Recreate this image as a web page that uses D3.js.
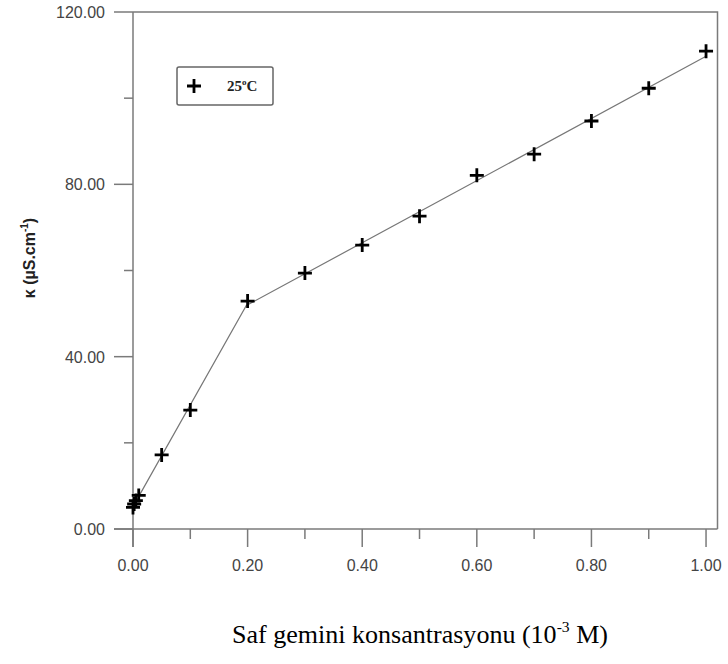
<!DOCTYPE html>
<html>
<head>
<meta charset="utf-8">
<script src="https://cdn.jsdelivr.net/npm/d3@7"></script>
<style>
  body { margin: 0; background: #fff; }
  svg { display: block; }
</style>
</head>
<body>
<div class="canvas"></div>
<script>
// data (x: 10^-3 M, y: µS/cm)
const concs = [0, 0.002, 0.005, 0.01, 0.05, 0.1, 0.2, 0.3, 0.4, 0.5, 0.6, 0.7, 0.8, 0.9, 1.0];
const kappa = [5.0, 5.8, 6.6, 7.8, 17.2, 27.6, 52.9, 59.4, 65.9, 72.6, 82.1, 87.0, 94.7, 102.3, 110.9];
const cmcConc = 0.2; // break point between the two fitted lines
const xTickVals = [0, 0.2, 0.4, 0.6, 0.8, 1.0];
const xMinorVals = [0.1, 0.3, 0.5, 0.7, 0.9];
const yTickVals = [0, 40, 80, 120];
const yMinorVals = [20, 60, 100];
const seriesLabel = "25";

const dims = { width: 728, height: 664 };
const plot = { left: 133, right: 717.5, top: 12, bottom: 529 };
const axisColor = "#7a7a7a";

const svg = d3.select(".canvas")
  .append("svg")
  .attr("width", dims.width)
  .attr("height", dims.height);

const x = d3.scaleLinear().domain([0, 1.02]).range([plot.left, plot.right]);
const y = d3.scaleLinear().domain([0, 120]).range([plot.bottom, plot.top]);

const points = concs.map((c, i) => ({ x: c, y: kappa[i] }));

// least squares fit
const fit = pts => {
  const mx = d3.mean(pts, d => d.x), my = d3.mean(pts, d => d.y);
  const sxy = d3.sum(pts, d => (d.x - mx) * (d.y - my));
  const sxx = d3.sum(pts, d => (d.x - mx) ** 2);
  const b = sxy / sxx;
  return { a: my - b * mx, b };
};
const pre = fit(points.filter(d => d.x <= cmcConc));
const post = fit(points.filter(d => d.x >= cmcConc));
const xi = (post.a - pre.a) / (pre.b - post.b);
const first = d3.min(concs), last = d3.max(concs);
const fitLine = [
  { x: first, y: pre.a + pre.b * first },
  { x: xi, y: pre.a + pre.b * xi },
  { x: last, y: post.a + post.b * last }
];

// frame: top and right
svg.append("path")
  .attr("d", `M${plot.left},${plot.top}H${plot.right}V${plot.bottom}`)
  .attr("fill", "none")
  .attr("stroke", axisColor)
  .attr("stroke-width", 1.5);

// x axis
const xAxis = svg.append("g").attr("transform", `translate(0,${plot.bottom})`);
xAxis.append("line")
  .attr("x1", plot.left - 19).attr("x2", plot.right)
  .attr("stroke", axisColor).attr("stroke-width", 1.5);
xAxis.selectAll(".major").data(xTickVals).enter().append("line")
  .attr("x1", d => x(d)).attr("x2", d => x(d))
  .attr("y1", 0).attr("y2", 18)
  .attr("stroke", axisColor).attr("stroke-width", 1.5);
xAxis.selectAll(".minor").data(xMinorVals).enter().append("line")
  .attr("x1", d => x(d)).attr("x2", d => x(d))
  .attr("y1", 0).attr("y2", 10)
  .attr("stroke", axisColor).attr("stroke-width", 1.5);
xAxis.selectAll("text").data(xTickVals).enter().append("text")
  .attr("x", d => x(d)).attr("y", 42)
  .attr("text-anchor", "middle")
  .attr("font-family", "Liberation Sans, Arial, sans-serif")
  .attr("font-size", 16)
  .attr("fill", "#444")
  .text(d => d3.format(".2f")(d));

// y axis
const yAxis = svg.append("g").attr("transform", `translate(${plot.left},0)`);
yAxis.append("line")
  .attr("y1", plot.top).attr("y2", plot.bottom + 18)
  .attr("stroke", axisColor).attr("stroke-width", 1.5);
yAxis.selectAll(".major").data(yTickVals).enter().append("line")
  .attr("y1", d => y(d)).attr("y2", d => y(d))
  .attr("x1", -19).attr("x2", 0)
  .attr("stroke", axisColor).attr("stroke-width", 1.5);
yAxis.selectAll(".minor").data(yMinorVals).enter().append("line")
  .attr("y1", d => y(d)).attr("y2", d => y(d))
  .attr("x1", -9).attr("x2", 0)
  .attr("stroke", axisColor).attr("stroke-width", 1.5);
yAxis.selectAll("text").data(yTickVals).enter().append("text")
  .attr("x", -28).attr("y", d => y(d) + 6)
  .attr("text-anchor", "end")
  .attr("font-family", "Liberation Sans, Arial, sans-serif")
  .attr("font-size", 16)
  .attr("fill", "#444")
  .text(d => d3.format(".2f")(d));

// fitted lines
svg.append("path")
  .datum(fitLine)
  .attr("d", d3.line().x(d => x(d.x)).y(d => y(d.y)))
  .attr("fill", "none")
  .attr("stroke", "#777")
  .attr("stroke-width", 1.2);

// cross markers
const plus = (cx, cy, s) => `M${cx - s},${cy}H${cx + s}M${cx},${cy - s}V${cy + s}`;
svg.append("g").selectAll("path").data(points).enter().append("path")
  .attr("d", d => plus(x(d.x), y(d.y), 7))
  .attr("stroke", "#000")
  .attr("stroke-width", 2.8)
  .attr("fill", "none");

// legend
const legend = svg.append("g").attr("transform", "translate(177,67)");
legend.append("rect")
  .attr("width", 96).attr("height", 38)
  .attr("rx", 2)
  .attr("fill", "none")
  .attr("stroke", "#666")
  .attr("stroke-width", 1.5);
legend.append("path")
  .attr("d", plus(17, 19, 7))
  .attr("stroke", "#000").attr("stroke-width", 2.8);
const lt = legend.append("text")
  .attr("x", 50).attr("y", 24)
  .attr("font-family", "Liberation Serif, Times New Roman, serif")
  .attr("font-weight", "bold")
  .attr("font-size", 15)
  .attr("fill", "#222");
lt.append("tspan").text(seriesLabel);
lt.append("tspan").attr("dy", -6).attr("font-size", 9).text("o");
lt.append("tspan").attr("dy", 6).text("C");

// y label
const yl = svg.append("text")
  .attr("transform", "translate(35,258) rotate(-90)")
  .attr("text-anchor", "middle")
  .attr("font-family", "Liberation Sans, Arial, sans-serif")
  .attr("font-weight", "bold")
  .attr("font-size", 16)
  .attr("fill", "#222");
yl.append("tspan").text("\u03ba (\u00b5S.cm");
yl.append("tspan").attr("dy", -7).attr("font-size", 10).text("-1");
yl.append("tspan").attr("dy", 7).text(")");

// x label
const xl = svg.append("text")
  .attr("x", 232).attr("y", 643)
  .attr("font-family", "Liberation Serif, Times New Roman, serif")
  .attr("font-size", 25)
  .attr("fill", "#000")
  .attr("textLength", 376)
  .attr("lengthAdjust", "spacingAndGlyphs");
xl.append("tspan").text("Saf gemini konsantrasyonu (10");
xl.append("tspan").attr("dy", -11).attr("font-size", 15).text("-3");
xl.append("tspan").attr("dy", 11).text(" M)");
</script>
</body>
</html>
